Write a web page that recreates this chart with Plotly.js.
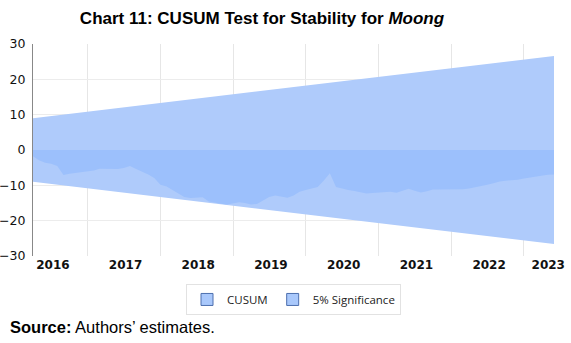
<!DOCTYPE html>
<html>
<head>
<meta charset="utf-8">
<script src="https://cdn.plot.ly/plotly-3.0.1.min.js"></script>
<style>
html,body{margin:0;padding:0;background:#fff;}
#chart{width:571px;height:343px;}
</style>
</head>
<body>
<div id="chart"></div>
<script>
// Monthly observation dates
var months = [
  '2016-04-01','2016-05-01','2016-06-01','2016-07-01','2016-08-01','2016-09-01','2016-10-01','2016-11-01','2016-12-01',
  '2017-01-01','2017-02-01','2017-03-01','2017-04-01','2017-05-01','2017-06-01','2017-07-01','2017-08-01','2017-09-01','2017-10-01','2017-11-01','2017-12-01',
  '2018-01-01','2018-02-01','2018-03-01','2018-04-01','2018-05-01','2018-06-01','2018-07-01','2018-08-01','2018-09-01','2018-10-01','2018-11-01','2018-12-01',
  '2019-01-01','2019-02-01','2019-03-01','2019-04-01','2019-05-01','2019-06-01','2019-07-01','2019-08-01','2019-09-01','2019-10-01','2019-11-01','2019-12-01',
  '2020-01-01','2020-02-01','2020-03-01','2020-04-01','2020-05-01','2020-06-01','2020-07-01','2020-08-01','2020-09-01','2020-10-01','2020-11-01','2020-12-01',
  '2021-01-01','2021-02-01','2021-03-01','2021-04-01','2021-05-01','2021-06-01','2021-07-01','2021-08-01','2021-09-01','2021-10-01','2021-11-01','2021-12-01',
  '2022-01-01','2022-02-01','2022-03-01','2022-04-01','2022-05-01','2022-06-01','2022-07-01','2022-08-01','2022-09-01','2022-10-01','2022-11-01','2022-12-01',
  '2023-01-01','2023-02-01','2023-03-01','2023-04-01','2023-05-01','2023-06-01'
];
// CUSUM statistic
var cusum = [
  -1.8,-2.9,-3.6,-3.9,-4.5,-7.1,-6.7,-6.5,-6.4,
  -6.1,-5.8,-5.3,-5.3,-5.5,-5.4,-5.1,-4.5,-5.4,-6.1,-6.9,-7.9,
  -9.8,-10.3,-11.2,-12.3,-13.3,-13.6,-13.6,-13.4,-14.6,-15.0,-15.2,-15.4,
  -15.2,-14.8,-15.0,-15.4,-15.3,-14.3,-13.3,-12.9,-13.1,-13.5,-12.9,-11.8,
  -11.3,-10.9,-10.5,-8.6,-6.6,-10.5,-11.0,-11.3,-11.6,-11.9,-12.3,-12.2,
  -12.0,-11.8,-11.8,-12.1,-11.6,-11.0,-11.5,-12.0,-11.7,-11.2,-11.2,-11.2,
  -11.2,-11.2,-11.1,-10.9,-10.6,-10.2,-9.8,-9.4,-8.9,-8.7,-8.6,-8.4,
  -8.1,-7.8,-7.4,-7.2,-7.0,-6.9
];
// 5% significance bounds (straight lines, start and end)
var boundDates = ['2016-04-01','2023-06-01'];
var upperBound = [9.0, 26.6];
var lowerBound = [-9.0, -26.6];
// Axis labels
var yearTickVals = ['2016-07-10','2017-07-10','2018-07-10','2019-07-10','2020-07-10','2021-07-10','2022-07-10','2023-05-03'];
var yearTickText = ['2016','2017','2018','2019','2020','2021','2022','2023'];
var legendNames = ['CUSUM','5% Significance'];

var bandColor = '#afcbfb';
var cusumColor = '#9cc0fc';

var traces = [
  {x: boundDates, y: lowerBound, type:'scatter', mode:'lines', line:{width:0, color:bandColor}, showlegend:false, hoverinfo:'skip'},
  {x: boundDates, y: upperBound, type:'scatter', mode:'lines', fill:'tonexty', fillcolor:bandColor, line:{width:0, color:bandColor}, showlegend:false, hoverinfo:'skip'},
  {x: months, y: cusum, type:'scatter', mode:'lines', fill:'tozeroy', fillcolor:cusumColor, line:{width:0, color:cusumColor}, showlegend:false},
  {x:[null], y:[null], type:'scatter', mode:'markers', name: legendNames[0], marker:{symbol:'square', size:12, color:'#a9c8fb', line:{color:'#4d6fae', width:1}}},
  {x:[null], y:[null], type:'scatter', mode:'markers', name: legendNames[1], marker:{symbol:'square', size:12, color:'#a9c8fb', line:{color:'#4d6fae', width:1}}}
];

var layout = {
  width:571, height:343,
  margin:{l:33, r:17, t:44, b:87},
  paper_bgcolor:'#fff', plot_bgcolor:'#fff',
  title:{
    text:'<b>Chart 11: CUSUM Test for Stability for <i>Moong</i></b>',
    font:{family:'Liberation Sans, Arial', size:17, color:'#000'},
    x:262/571, xanchor:'center', xref:'container',
    y:1-18/343, yanchor:'middle', yref:'container'
  },
  xaxis:{
    type:'date',
    range:['2016-04-01','2023-06-01'],
    tickmode:'array', tickvals: yearTickVals, ticktext: yearTickText,
    showgrid:false, zeroline:false, showline:false, ticks:'',
    tickfont:{family:'DejaVu Sans', size:12, color:'#111', weight:'bold'},
    minor:{tick0:'2017-01-01', dtick:'M12', showgrid:true, gridcolor:'#e6e6e6', gridwidth:1, ticks:''},
    fixedrange:true
  },
  yaxis:{
    range:[-30,30], tickmode:'array', tickvals:[-30,-20,-10,0,10,20,30],
    showgrid:true, gridcolor:'#ececec', zeroline:false,
    showline:true, linecolor:'#888', linewidth:1, ticks:'',
    tickfont:{family:'DejaVu Sans', size:12.5, color:'#111'},
    ticklabelstandoff:4,
    fixedrange:true
  },
  showlegend:true,
  legend:{
    orientation:'h', x:0.5, xanchor:'center', xref:'paper',
    y:-0.205, yanchor:'middle', traceorder:'normal',
    bordercolor:'#e2e2e2', borderwidth:1, bgcolor:'#fff',
    font:{family:'Open Sans', size:11.5, color:'#222'},
    itemwidth:30, tracegroupgap:0
  },
  annotations:[{
    text:'<b>Source:</b> Authors\u2019 estimates.',
    xref:'paper', yref:'paper', x: -25/521, xanchor:'left',
    y: -(327-256)/212, yanchor:'middle', showarrow:false,
    font:{family:'Liberation Sans, Arial', size:16.5, color:'#000'}
  }]
};

Plotly.newPlot('chart', traces, layout, {displayModeBar:false, staticPlot:true});
</script>
</body>
</html>
